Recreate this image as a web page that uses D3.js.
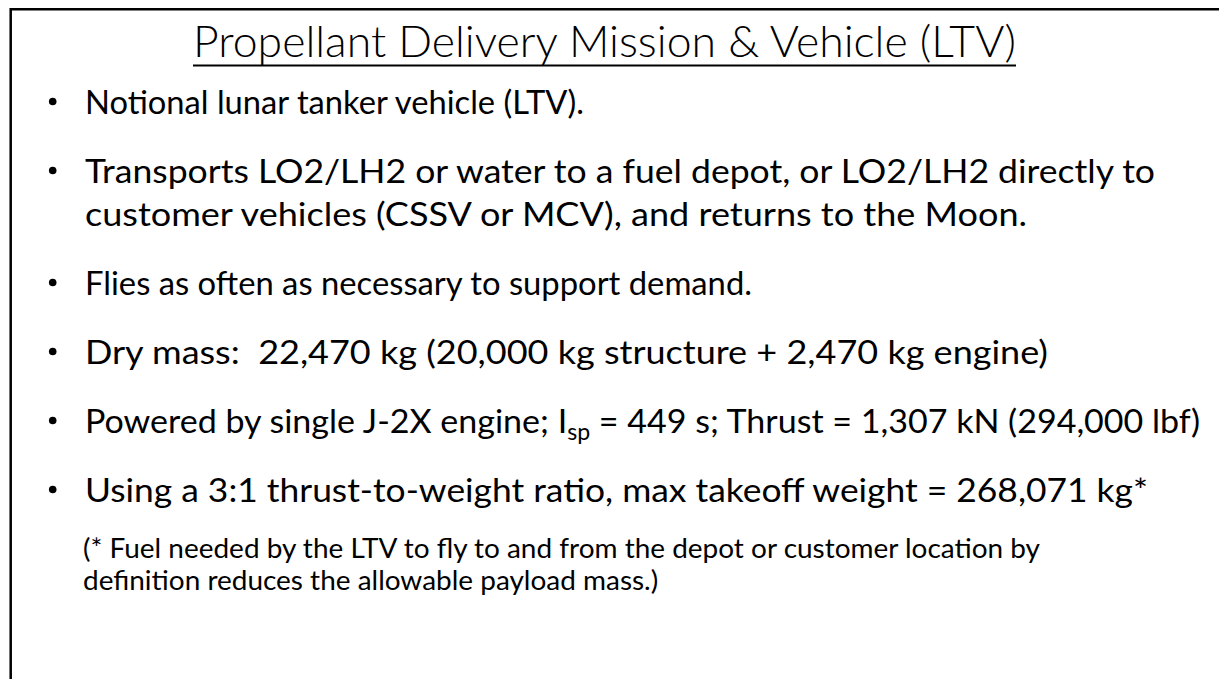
<!DOCTYPE html>
<html>
<head>
<meta charset="utf-8">
<script src="https://cdn.jsdelivr.net/npm/d3@7"></script>
<style>
  body { margin: 0; background: #ffffff; }
  svg { display: block; }
  text { white-space: pre; }
</style>
</head>
<body>
<script>
var w = 1219;
var h = 679;

// slide content
var title = "Propellant Delivery Mission & Vehicle (LTV)";

var bullets = [
    ["Notional lunar tanker vehicle (LTV)."],
    ["Transports LO2/LH2 or water to a fuel depot, or LO2/LH2 directly to",
     "customer vehicles (CSSV or MCV), and returns to the Moon."],
    ["Flies as often as necessary to support demand."],
    ["Dry mass:  22,470 kg (20,000 kg structure + 2,470 kg engine)"],
    ["Powered by single J-2X engine; I|sp| = 449 s; Thrust = 1,307 kN (294,000 lbf)"],
    ["Using a 3:1 thrust-to-weight ratio, max takeoff weight = 268,071 kg*"]
];

var footnote = [
    "(* Fuel needed by the LTV to fly to and from the depot or customer location by",
    "definition reduces the allowable payload mass.)"
];

// layout: where each printed body line ends on the slide (Calibri metrics)
var bodyLineEnds = [584, 1155, 1027, 752, 1048, 1200, 1148];
var footEnd = 1040;

var font = "Lato, 'Open Sans', sans-serif";
var textX = 85;
var footX = 83;
var bulletX = 52.7;
var lineGap = 43;
var paraGap = 69;
var bodySize = 33.5;
var footSize = 27;

var svg = d3.select("body")
    .append("svg")
    .attr("width", w)
    .attr("height", h);

svg.append("rect")
    .attr("width", w)
    .attr("height", h)
    .attr("fill", "#ffffff");

// frame: top and left edges only
svg.append("path")
    .attr("d", "M10.7," + h + "V9.3H" + w)
    .attr("fill", "none")
    .attr("stroke", "#000")
    .attr("stroke-width", 2.5);

// title
svg.append("text")
    .text(title)
    .attr("x", 604.5)
    .attr("y", 56.7)
    .attr("text-anchor", "middle")
    .attr("font-family", font)
    .attr("font-weight", 300)
    .attr("font-size", 43)
    .attr("fill", "#000")
    .attr("textLength", 823)
    .attr("lengthAdjust", "spacingAndGlyphs");

svg.append("line")
    .attr("x1", 193)
    .attr("x2", 1016)
    .attr("y1", 65.5)
    .attr("y2", 65.5)
    .attr("stroke", "#000")
    .attr("stroke-width", 1.8);

// write a line, supporting a |subscript| part
function writeLine(g, str, x, y, size) {
    var txt = g.append("text")
        .attr("x", x)
        .attr("y", y)
        .attr("font-family", font)
        .attr("font-size", size)
        .attr("fill", "#000");
    var parts = str.split("|");
    parts.forEach(function(p, i) {
        if (i % 2 == 1) {
            txt.append("tspan").text(p)
                .attr("font-size", size * 0.68)
                .attr("dy", size * 0.2);
        } else if (i > 0) {
            txt.append("tspan").text(p).attr("dy", -size * 0.2);
        } else {
            txt.append("tspan").text(p);
        }
    });
    return txt;
}

function fit(txt, len) {
    txt.attr("textLength", len).attr("lengthAdjust", "spacingAndGlyphs");
}

var y = 114;
var n = 0;
bullets.forEach(function(b, i) {
    if (i > 0) y += paraGap;
    svg.append("circle")
        .attr("cx", bulletX)
        .attr("cy", y - 12.5)
        .attr("r", 3.8)
        .attr("fill", "#000");
    b.forEach(function(s, j) {
        if (j > 0) y += lineGap;
        var t = writeLine(svg, s, textX, y, bodySize);
        fit(t, bodyLineEnds[n] - textX);
        n++;
    });
});

// footnote: first line sets the squeeze, second line follows it
var fy = y + 56;
var foot = footnote.map(function(s, j) {
    return writeLine(svg, s, footX, fy + j * 32, footSize);
});
var k = (footEnd - footX) / foot[0].node().getComputedTextLength();
foot.forEach(function(t) {
    fit(t, t.node().getComputedTextLength() * k);
});
</script>
</body>
</html>
